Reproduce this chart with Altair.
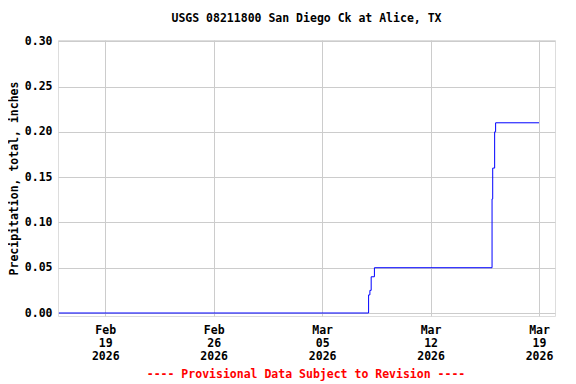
import altair as alt
import pandas as pd

times = [
    "2026-02-16T00:15", "2026-03-08T00:00", "2026-03-08T02:00", "2026-03-08T04:00",
    "2026-03-08T09:00", "2026-03-15T23:15", "2026-03-16T00:15", "2026-03-16T03:15",
    "2026-03-16T04:45", "2026-03-19T00:00",
]
values = [0.00, 0.02, 0.025, 0.04, 0.05, 0.126, 0.16, 0.20, 0.21, 0.21]
tick_dates = ["2026-02-19", "2026-02-26", "2026-03-05", "2026-03-12", "2026-03-19"]
y_ticks = [0.00, 0.05, 0.10, 0.15, 0.20, 0.25, 0.30]

title_text = "USGS 08211800 San Diego Ck at Alice, TX"
footer_text = "---- Provisional Data Subject to Revision ----"

FONT = "DejaVu Sans Mono"
FS = 11.5

df = pd.DataFrame({"t": pd.to_datetime(times), "v": values})
tick_vals = [alt.DateTime(year=int(d[:4]), month=int(d[5:7]), date=int(d[8:])) for d in tick_dates]

line = alt.Chart(df).mark_line(interpolate="step-after", color="#0000ff", strokeWidth=1).encode(
    x=alt.X("t:T",
            scale=alt.Scale(domain=[alt.DateTime(year=2026, month=2, date=15, hours=22, minutes=50),
                                    alt.DateTime(year=2026, month=3, date=20, hours=0, minutes=45)],
                            nice=False),
            axis=alt.Axis(title=None, values=tick_vals, ticks=False, domain=False,
                          labelExpr="[timeFormat(datum.value, '%b'), timeFormat(datum.value, '%d'), timeFormat(datum.value, '%Y')]",
                          labelFont=FONT, labelFontWeight="bold", labelFontSize=FS, labelColor="black",
                          labelPadding=8, labelLineHeight=13, gridColor="#cccccc", gridWidth=1)),
    y=alt.Y("v:Q",
            scale=alt.Scale(domain=[-0.0033, 0.3014], nice=False, zero=False),
            axis=alt.Axis(title="Precipitation, total, inches", values=y_ticks, format=".2f",
                          ticks=False, domain=False,
                          labelFont=FONT, labelFontWeight="bold", labelFontSize=FS, labelColor="black",
                          labelPadding=6, titleFont=FONT, titleFontWeight="bold", titleFontSize=FS,
                          titleColor="black", titlePadding=5, gridColor="#cccccc", gridWidth=1)),
)

footer = alt.Chart(pd.DataFrame({"s": [footer_text]})).mark_text(
    font=FONT, fontWeight="bold", fontSize=FS, color="#ff0000", align="center", baseline="middle"
).encode(text="s:N", x=alt.value(248), y=alt.value(335))

chart = alt.layer(line, footer).properties(
    width=497, height=276,
    title=alt.TitleParams(title_text, font=FONT, fontWeight="bold", fontSize=FS, color="black",
                          offset=11, anchor="middle"),
    autosize=alt.AutoSizeParams(type="none"),
    padding={"left": 50, "top": 32, "right": 13, "bottom": 68},
).configure_view(stroke="black", strokeWidth=1).configure(background="white")

chart.save("out.html", embed_options={"renderer": "svg", "actions": False})
